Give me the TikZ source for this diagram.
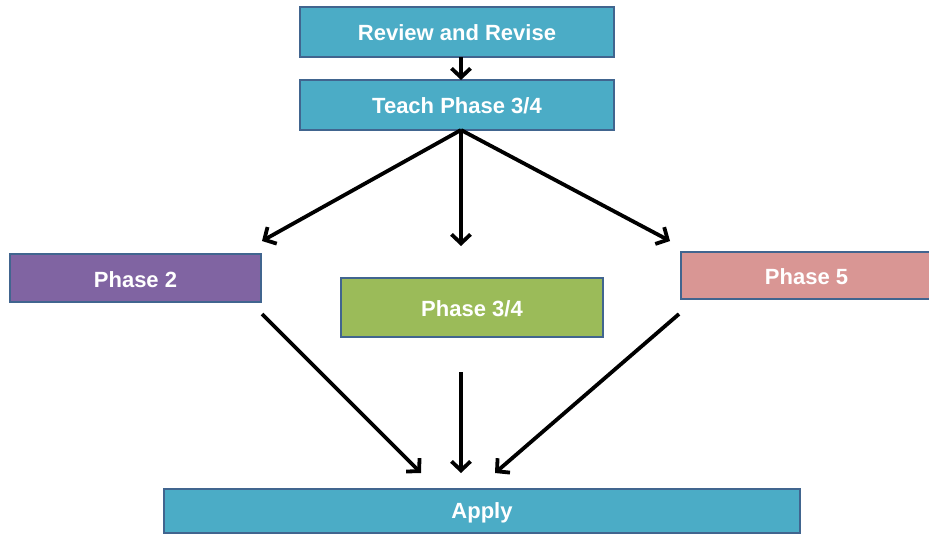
\documentclass[tikz,border=0pt]{standalone}
\usepackage{fontspec}
\setmainfont{Liberation Sans}
\usetikzlibrary{arrows.meta}
\definecolor{boxblue}{HTML}{4BACC6}
\definecolor{boxpurple}{HTML}{8064A2}
\definecolor{boxgreen}{HTML}{9BBB59}
\definecolor{boxpink}{HTML}{D99694}
\definecolor{edge}{HTML}{41658F}
\begin{document}
\begin{tikzpicture}[x=1pt,y=-1pt,
  phase/.style={draw=edge,line width=1.8pt,text=white,
    font=\fontsize{22}{26}\selectfont\bfseries},
  arr/.style={line width=3.8pt,-{Straight Barb[length=9pt,width=19pt,line width=3.8pt]}}]
\useasboundingbox[fill=white] (0,0) rectangle (929,536);
% boxes
\draw[phase,fill=boxblue] (300,7) rectangle (614,57) node[midway,yshift=-1pt] (rev) {Review and Revise};
\draw[phase,fill=boxblue] (300,80) rectangle (614,130) node[midway,yshift=-1pt] (teach) {Teach Phase 3/4};
\draw[phase,fill=boxpurple] (10,254) rectangle (261,302) node[midway,yshift=-1.5pt] (p2) {Phase 2};
\draw[phase,fill=boxgreen] (341,278) rectangle (603,337) node[midway,yshift=-1pt] (p34) {Phase 3/4};
\draw[phase,fill=boxpink] (681,252) rectangle (932,299) node[midway,yshift=-1pt] (p5) {Phase 5};
\draw[phase,fill=boxblue] (164,489) rectangle (800,533) node[midway,yshift=-2pt] (apply) {Apply};
% connector ends
\coordinate (revout) at (461,57);
\coordinate (teachin) at (461,80);
\coordinate (teachout) at (461,130);
\coordinate (p2in) at (262,241);
\coordinate (p34in) at (461,246);
\coordinate (p5in) at (670,241);
\coordinate (p2out) at (262,314);
\coordinate (p34out) at (461,372);
\coordinate (p5out) at (679,314);
\coordinate (applyinl) at (421,473);
\coordinate (applyinm) at (461,473);
\coordinate (applyinr) at (495,473);
% connectors
\draw[arr] (revout) -- (teachin);
\draw[arr] (teachout) -- (p2in);
\draw[arr] (teachout) -- (p34in);
\draw[arr] (teachout) -- (p5in);
\draw[arr] (p2out) -- (applyinl);
\draw[arr] (p34out) -- (applyinm);
\draw[arr] (p5out) -- (applyinr);
\end{tikzpicture}
\end{document}
